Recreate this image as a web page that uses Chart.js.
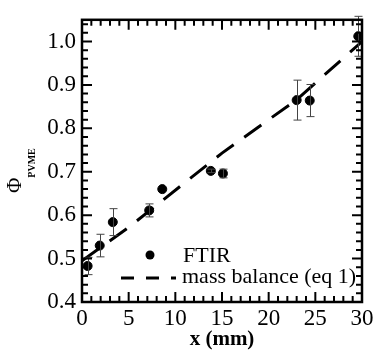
<!DOCTYPE html>
<html>
<head>
<meta charset="utf-8">
<script src="https://cdn.jsdelivr.net/npm/chart.js@4/dist/chart.umd.min.js"></script>
<style>
  html, body { margin: 0; padding: 0; background: #fff; }
  #wrap { width: 383px; height: 352px; }
</style>
</head>
<body>
<div id="wrap"><canvas id="grafica"></canvas></div>
<script>
// FTIR data (x in mm, phi PVME, +/- error)
const ftirX   = [0.6, 1.9, 3.3, 7.2, 8.6, 13.8, 15.1, 23.0, 24.4, 29.6];
const ftirPhi = [0.483, 0.530, 0.584, 0.611, 0.660, 0.702, 0.696, 0.865, 0.864, 1.012];
const ftirErr = [0.020, 0.026, 0.031, 0.015, 0, 0.004, 0.010, 0.046, 0.037, 0.046];

// mass balance (eq 1)
const balanceX   = [0, 5, 15, 23, 30];
const balancePhi = [0.495, 0.572, 0.743, 0.866, 1.0];

const xTicks = [0, 5, 10, 15, 20, 25, 30];
const yTicks = [0.4, 0.5, 0.6, 0.7, 0.8, 0.9, 1.0];

const serif = "'Liberation Serif', 'DejaVu Serif', serif";

// error bars
const errorBars = {
  id: 'errorBars',
  afterDatasetsDraw(chart) {
    const ctx = chart.ctx;
    const xs = chart.scales.x, ys = chart.scales.y;
    ctx.save();
    ctx.strokeStyle = '#444';
    ctx.lineWidth = 1;
    ftirX.forEach((xv, i) => {
      if (!ftirErr[i]) return;
      const px = Math.round(xs.getPixelForValue(xv)) + 0.5;
      const top = ys.getPixelForValue(ftirPhi[i] + ftirErr[i]);
      const bot = ys.getPixelForValue(ftirPhi[i] - ftirErr[i]);
      ctx.beginPath();
      ctx.moveTo(px, top); ctx.lineTo(px, bot);
      ctx.moveTo(px - 4, top); ctx.lineTo(px + 4, top);
      ctx.moveTo(px - 4, bot); ctx.lineTo(px + 4, bot);
      ctx.stroke();
    });
    ctx.restore();
  }
};

// frame, inside ticks, legend and y title
const marco = {
  id: 'marco',
  afterDraw(chart) {
    const ctx = chart.ctx;
    const a = chart.chartArea;
    const xs = chart.scales.x, ys = chart.scales.y;
    ctx.save();
    ctx.strokeStyle = '#000';
    ctx.lineWidth = 2;
    ctx.beginPath();
    for (let v = 0; v <= 30.001; v += 1) {
      const px = xs.getPixelForValue(v);
      const len = Math.abs(v % 5) < 0.01 ? 10 : 6;
      ctx.moveTo(px, a.bottom); ctx.lineTo(px, a.bottom - len);
      ctx.moveTo(px, a.top); ctx.lineTo(px, a.top + len);
    }
    for (let k = 0; k <= 32; k++) {
      const v = 0.4 + k * 0.02;
      const py = ys.getPixelForValue(v);
      const len = k % 5 === 0 ? 10 : 6;
      ctx.moveTo(a.left, py); ctx.lineTo(a.left + len, py);
      ctx.moveTo(a.right, py); ctx.lineTo(a.right - len, py);
    }
    ctx.stroke();
    ctx.lineWidth = 2.5;
    ctx.strokeRect(a.left, a.top, a.right - a.left, a.bottom - a.top);

    // legend
    ctx.fillStyle = '#000';
    ctx.beginPath();
    ctx.arc(150, 255, 4.5, 0, Math.PI * 2);
    ctx.fill();
    ctx.font = '22px ' + serif;
    ctx.textBaseline = 'middle';
    ctx.textAlign = 'left';
    ctx.fillText('FTIR', 183, 256);
    ctx.lineWidth = 3;
    ctx.setLineDash([13, 12]);
    ctx.beginPath();
    ctx.moveTo(121, 278); ctx.lineTo(176, 278);
    ctx.stroke();
    ctx.setLineDash([]);
    ctx.fillText('mass balance (eq 1)', 182, 277);

    // y title: phi with subscript PVME
    ctx.translate(15, 193);
    ctx.rotate(-Math.PI / 2);
    ctx.font = '21px ' + serif;
    ctx.textBaseline = 'middle';
    ctx.fillText('\u03A6', 0, 0);
    const w = ctx.measureText('\u03A6').width;
    ctx.font = 'bold 10px ' + serif;
    ctx.fillText('PVME', w, 17);
    ctx.restore();
  }
};

const ctx = document.getElementById('grafica').getContext('2d');
new Chart(ctx, {
  type: 'scatter',
  data: {
    datasets: [{
      label: 'FTIR',
      data: ftirX.map((x, i) => ({ x: x, y: ftirPhi[i] })),
      backgroundColor: '#000',
      borderColor: '#000',
      pointRadius: 4.5,
      pointHoverRadius: 4.5
    }, {
      label: 'mass balance (eq 1)',
      type: 'line',
      data: balanceX.map((x, i) => ({ x: x, y: balancePhi[i] })),
      borderColor: '#000',
      borderWidth: 3,
      borderDash: [21, 13],
      pointRadius: 0,
      fill: false,
      tension: 0
    }]
  },
  options: {
    responsive: true,
    maintainAspectRatio: false,
    animation: false,
    layout: { padding: { top: 15, right: 21, left: 0, bottom: 0 } },
    plugins: { legend: { display: false }, tooltip: { enabled: false } },
    scales: {
      x: {
        type: 'linear',
        min: 0, max: 30,
        grid: { display: false, drawTicks: false },
        border: { display: false },
        afterBuildTicks: s => { s.ticks = xTicks.map(v => ({ value: v })); },
        afterFit: s => { s.height = 50; },
        ticks: {
          color: '#000',
          padding: 3,
          maxRotation: 0,
          font: { family: serif, size: 23 },
          callback: v => String(v)
        },
        title: {
          display: true,
          text: 'x (mm)',
          color: '#000',
          padding: { top: 0, bottom: 0 },
          font: { family: serif, size: 21, weight: 'bold' }
        }
      },
      y: {
        type: 'linear',
        min: 0.4, max: 1.05,
        grid: { display: false, drawTicks: false },
        border: { display: false },
        afterBuildTicks: s => { s.ticks = yTicks.map(v => ({ value: v })); },
        afterFit: s => { s.width = 82; },
        ticks: {
          color: '#000',
          padding: 6,
          font: { family: serif, size: 23 },
          callback: v => Number(v).toFixed(1)
        }
      }
    }
  },
  plugins: [errorBars, marco]
});
</script>
</body>
</html>
